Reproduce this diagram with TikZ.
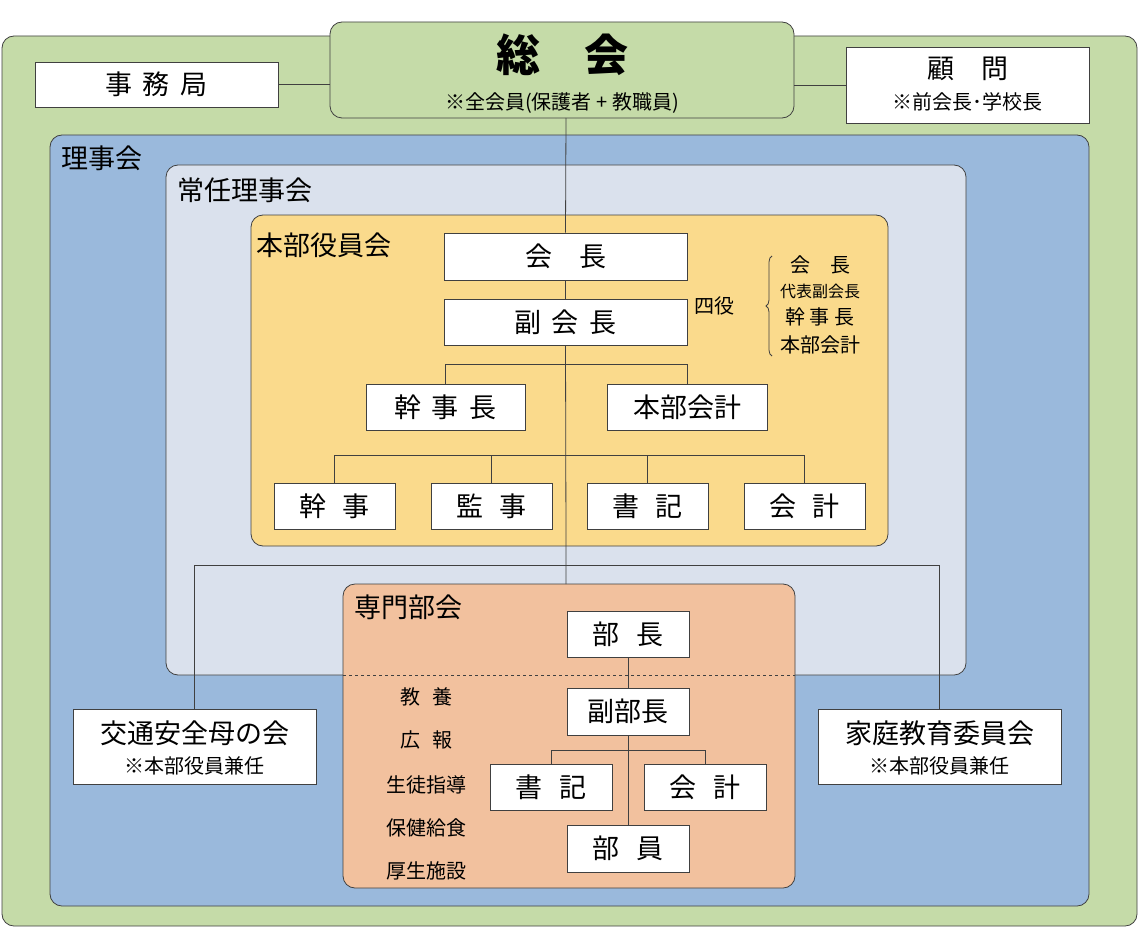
\documentclass[tikz,border=0pt]{standalone}
\usepackage{fontspec}
\setmainfont{Noto Sans CJK JP}
\usetikzlibrary{decorations.pathreplacing}
\definecolor{gr}{HTML}{C5DBA8}
\definecolor{bl}{HTML}{9AB9DC}
\definecolor{lb}{HTML}{DAE1ED}
\definecolor{yl}{HTML}{FADA8C}
\definecolor{or}{HTML}{F2C19E}
\definecolor{ln}{HTML}{404040}
\begin{document}
\begin{tikzpicture}[x=1pt,y=-1pt,
  wb/.style={draw=ln,fill=white,line width=0.8pt},
  area/.style={draw=ln,rounded corners=12pt,line width=0.8pt},
  bt/.style={font=\fontsize{27}{30}\selectfont},
  st/.style={font=\fontsize{20}{22}\selectfont},
  lbl/.style={font=\fontsize{27}{30}\selectfont,anchor=west},
  cn/.style={draw=ln,line width=0.8pt}]
\useasboundingbox (0,0) rectangle (1139,928);
\fill[white] (0,0) rectangle (1139,928);
\draw[area,fill=gr] (2,36) rectangle (1137,926);
\draw[area,fill=bl] (50,135) rectangle (1089,906);
\node[lbl] (lr) at (58,158) {理事会};
\draw[area,fill=lb] (166,165) rectangle (966,675);
\node[lbl] (lj) at (174,190) {常任理事会};
\draw[area,fill=yl] (251,215) rectangle (888,546);
\node[lbl] (lh) at (253,245) {本部役員会};
\draw[area,fill=or] (343,584) rectangle (795,888);
\node[lbl] (ls) at (351,607) {専門部会};
\draw[ln,dashed,line width=0.8pt] (343,675) -- (795,675);
% top
\draw[area,fill=gr] (330,22) rectangle (794,118);
\node[font=\fontsize{44}{48}\selectfont\bfseries] (sk) at (562,55) {総\hspace{1em}会};
\node[st] (skn) at (562,103) {※全会員(保護者 + 教職員)};
\coordinate (skb) at (566,118);
\node[wb,minimum width=243,minimum height=45,bt] (jm) at (156.5,84.5) {事\hspace{0.4em}務\hspace{0.4em}局};
\node[wb,minimum width=243,minimum height=76] (km) at (967.5,85) {};
\node[bt] at (967.5,69) {顧\hspace{1em}問};
\node[st] at (967.5,102) {※前会長･学校長};
\draw[cn] (jm.east) -- (330,84.5);
\draw[cn] (794,85) -- (km.west);
% honbu
\node[wb,minimum width=243,minimum height=47,bt] (kc) at (565.5,256.5) {会\hspace{1em}長};
\node[wb,minimum width=243,minimum height=46,bt] (fk) at (565.5,322) {副\hspace{0.4em}会\hspace{0.4em}長};
\draw[cn] (skb) -- (kc.north);
\draw[cn] (kc.south) -- (fk.north);
\node[font=\fontsize{20}{22}\selectfont] (yy) at (714,306) {四役};
\draw[ln,decorate,decoration={brace,amplitude=6pt},line width=0.8pt] (772,356) -- (772,256);
\node[st] at (820,265) {会\hspace{1em}長};
\node[font=\fontsize{16}{18}\selectfont] at (820,291) {代表副会長};
\node[st] at (820,317) {幹 事 長};
\node[st] at (820,345) {本部会計};
\node[wb,minimum width=159,minimum height=46,bt] (kj) at (445.5,407) {幹\hspace{0.4em}事\hspace{0.4em}長};
\node[wb,minimum width=160,minimum height=46,bt] (hk) at (687,407) {本部会計};
\draw[cn] (fk.south) -- (566,546) -- (566,584);
\draw[cn] (kj.north) -- (445.5,364) -- (687,364) -- (hk.north);
\foreach \n/\t/\x in {a/幹\hspace{0.6em}事/334.5,b/監\hspace{0.6em}事/491.5,c/書\hspace{0.6em}記/647.5,d/会\hspace{0.6em}計/804.5}
  \node[wb,minimum width=121,minimum height=46,bt] (b\n) at (\x,506) {\t};
\draw[cn] (ba.north) -- (334.5,455) -- (804.5,455) -- (bd.north);
\draw[cn] (bb.north) -- (491.5,455);
\draw[cn] (bc.north) -- (647.5,455);
% side
\node[wb,minimum width=243,minimum height=75] (kt) at (194.5,746.5) {};
\node[bt] at (194.5,733) {交通安全母の会};
\node[st] at (194.5,766) {※本部役員兼任};
\node[wb,minimum width=243,minimum height=75] (kk) at (939.5,746.5) {};
\node[bt] at (939.5,733) {家庭教育委員会};
\node[st] at (939.5,766) {※本部役員兼任};
\draw[cn] (kt.north) -- (194.5,565) -- (939.5,565) -- (kk.north);
% senmon
\node[wb,minimum width=122,minimum height=46,bt] (bc1) at (628,634) {部\hspace{0.6em}長};
\node[wb,minimum width=122,minimum height=47,bt] (fb) at (628,711.5) {副部長};
\node[wb,minimum width=122,minimum height=46,bt] (sy) at (551,787) {書\hspace{0.6em}記};
\node[wb,minimum width=122,minimum height=46,bt] (ka) at (705,787) {会\hspace{0.6em}計};
\node[wb,minimum width=122,minimum height=47,bt] (bi) at (628,848.5) {部\hspace{0.6em}員};
\draw[cn] (bc1.south) -- (fb.north);
\draw[cn] (fb.south) -- (bi.north);
\draw[cn] (sy.north) -- (551,750) -- (705,750) -- (ka.north);
\foreach \t/\y in {教\hspace{0.6em}養/697,広\hspace{0.6em}報/740,生徒指導/785,保健給食/828,厚生施設/871}
  \node[st] at (426,\y) {\t};
\end{tikzpicture}
\end{document}
